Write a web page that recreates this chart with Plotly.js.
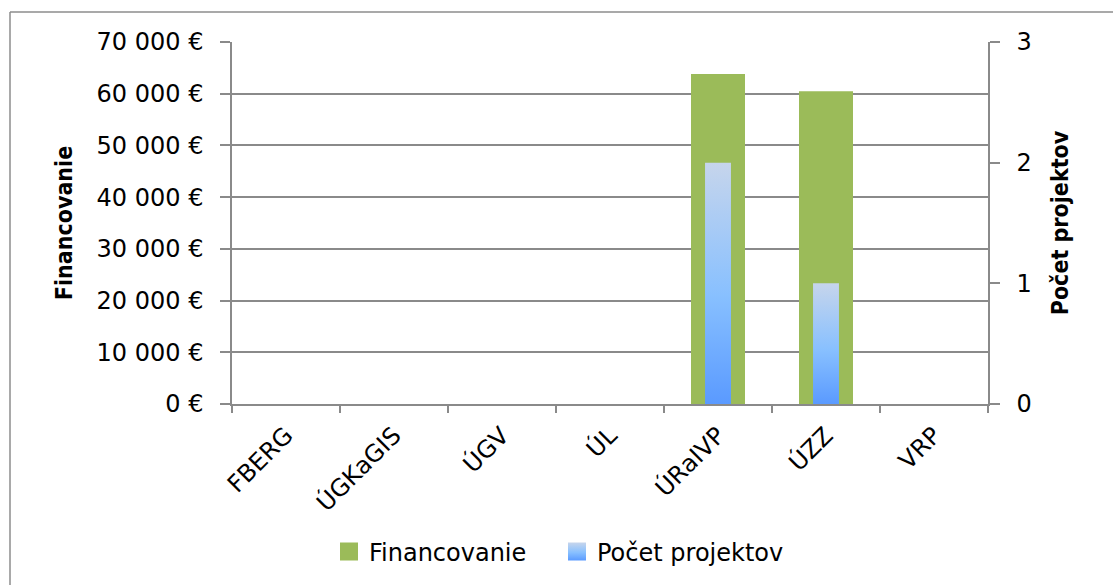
<!DOCTYPE html>
<html>
<head>
<meta charset="utf-8">
<script src="https://cdn.plot.ly/plotly-3.0.1.min.js"></script>
<style>
html,body{margin:0;padding:0;background:#fff;}
#chart{width:1113px;height:585px;}
</style>
</head>
<body>
<div id="chart"></div>
<script>
const categories = ["FBERG", "ÚGKaGIS", "ÚGV", "ÚL", "ÚRaIVP", "ÚZZ", "VRP"];
const financovanie = [0, 0, 0, 0, 63800, 60500, 0];
const pocetProjektov = [0, 0, 0, 0, 2, 1, 0];
const leftTickVals = [0, 10000, 20000, 30000, 40000, 50000, 60000, 70000];
const leftTickText = ["0 €", "10 000 €", "20 000 €", "30 000 €", "40 000 €", "50 000 €", "60 000 €", "70 000 €"];
const rightTickVals = [0, 1, 2, 3];
const rightTickText = ["0", "1", "2", "3"];

const gridCol = "#8a8a8a";
const fontFam = "DejaVu Sans, sans-serif";
const titleFam = "DejaVu Sans Condensed, DejaVu Sans, sans-serif";

const traces = [
  {
    type: "bar", name: "Financovanie", x: categories, y: financovanie,
    yaxis: "y", width: 0.5, offset: -0.25,
    marker: {color: "#9BBB59", line: {width: 0}},
    hoverinfo: "none"
  },
  {
    type: "bar", name: "Počet projektov", x: categories, y: pocetProjektov,
    yaxis: "y2", width: 0.24, offset: -0.12,
    marker: {color: "#8DBFFA", line: {width: 0}},
    hoverinfo: "none"
  }
];

const L = 232, R = 988, T = 42, B = 405;
const pw = R - L, ph = B - T;
const px = v => (v - L) / pw;
const py = v => (B - v) / ph;

const layout = {
  width: 1113, height: 585,
  margin: {l: L, r: 1113 - R, t: T, b: 585 - B, pad: 0},
  paper_bgcolor: "#fff", plot_bgcolor: "#fff",
  showlegend: true,
  barmode: "overlay",
  font: {family: fontFam, color: "#000", size: 23},
  xaxis: {
    type: "category", range: [-0.5, 6.5],
    tickson: "boundaries", ticks: "outside", ticklen: 7, tickcolor: gridCol, tickwidth: 1.5,
    ticklabelstandoff: 6,
    showline: true, linecolor: gridCol, linewidth: 1.5,
    showgrid: false, tickangle: -45,
    tickfont: {family: fontFam, size: 24, color: "#000"},
    fixedrange: true
  },
  yaxis: {
    range: [0, 70000], tickvals: leftTickVals, ticktext: leftTickText,
    ticks: "outside", ticklen: 10, tickcolor: gridCol, tickwidth: 1.5,
    ticklabelstandoff: 12,
    showline: true, linecolor: gridCol, linewidth: 1.5,
    showgrid: true, gridcolor: gridCol, gridwidth: 1.5, zeroline: false,
    tickfont: {family: fontFam, size: 24, color: "#000"},
    title: {text: "Financovanie", font: {family: titleFam, size: 23, color: "#000", weight: "bold"}, standoff: 18},
    fixedrange: true
  },
  yaxis2: {
    overlaying: "y", side: "right", range: [0, 3],
    tickvals: rightTickVals, ticktext: rightTickText,
    ticks: "outside", ticklen: 10, tickcolor: gridCol, tickwidth: 1.5,
    ticklabelstandoff: 12,
    showline: true, linecolor: gridCol, linewidth: 1.5,
    showgrid: false, zeroline: false,
    tickfont: {family: fontFam, size: 24, color: "#000"},
    title: {text: "Počet projektov", font: {family: titleFam, size: 23, color: "#000", weight: "bold"}, standoff: 21},
    fixedrange: true
  },
  legend: {
    orientation: "h", x: px(329), xanchor: "left", y: py(552), yanchor: "middle",
    entrywidth: 183, entrywidthmode: "pixels",
    font: {family: fontFam, size: 24, color: "#000"},
    itemclick: false, itemdoubleclick: false
  },
  shapes: [
    {type: "line", xref: "paper", yref: "paper", x0: px(10), x1: px(10), y0: py(12), y1: py(700), line: {color: "#8c8c8c", width: 1.5}},
    {type: "line", xref: "paper", yref: "paper", x0: px(10), x1: px(1300), y0: py(12), y1: py(12), line: {color: "#8c8c8c", width: 1.5}}
  ]
};

function applyGradient(gd) {
  const svg = gd.querySelector(".main-svg");
  if (!svg) return;
  let defs = svg.querySelector("defs");
  if (!defs) { defs = document.createElementNS("http://www.w3.org/2000/svg", "defs"); svg.insertBefore(defs, svg.firstChild); }
  if (!defs.querySelector("#blueGrad")) {
    const ns = "http://www.w3.org/2000/svg";
    const g = document.createElementNS(ns, "linearGradient");
    g.setAttribute("id", "blueGrad");
    g.setAttribute("x1", "0"); g.setAttribute("y1", "0");
    g.setAttribute("x2", "0"); g.setAttribute("y2", "1");
    [["0", "#C6D5EC"], ["0.55", "#88C0FF"], ["1", "#5A9AFF"]].forEach(([o, c]) => {
      const s = document.createElementNS(ns, "stop");
      s.setAttribute("offset", o); s.setAttribute("stop-color", c);
      g.appendChild(s);
    });
    defs.appendChild(g);
  }
  const barTraces = gd.querySelectorAll(".barlayer .trace.bars");
  if (barTraces[1]) barTraces[1].querySelectorAll("path").forEach(p => { p.style.fill = "url(#blueGrad)"; });
  const legendItems = gd.querySelectorAll(".legend .traces");
  legendItems.forEach((item, i) => {
    item.querySelectorAll(".legendpoints path").forEach(p => {
      p.setAttribute("d", "M9,9H-9V-9H9Z");
      p.style.strokeWidth = "0";
      if (i === 1) p.style.fill = "url(#blueGrad)";
    });
  });
}

const gd = document.getElementById("chart");
Plotly.newPlot(gd, traces, layout, {displayModeBar: false}).then(() => {
  applyGradient(gd);
  gd.on("plotly_afterplot", () => applyGradient(gd));
});
</script>
</body>
</html>
